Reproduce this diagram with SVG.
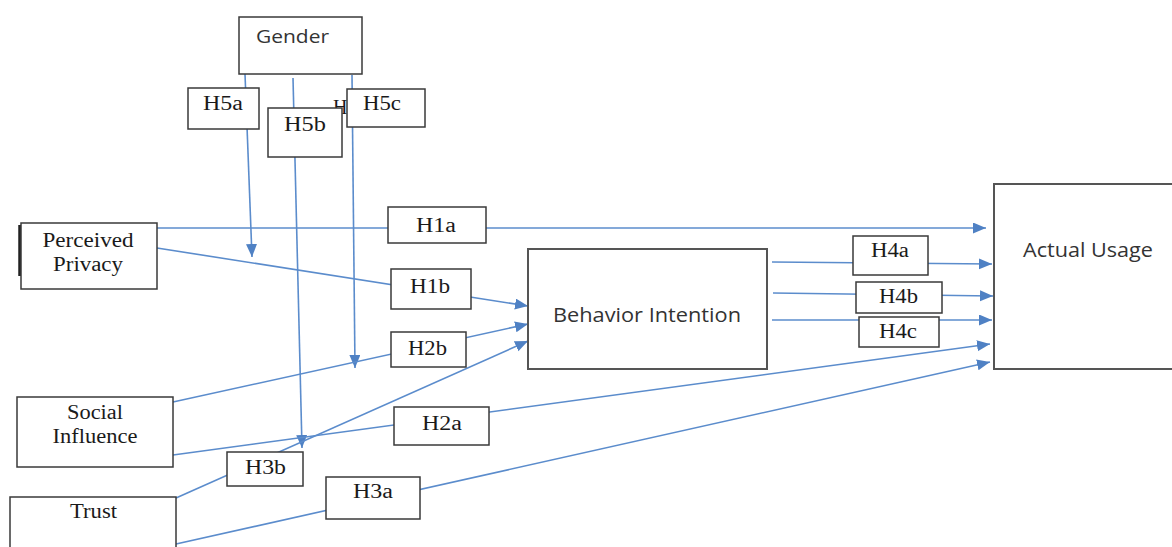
<svg xmlns="http://www.w3.org/2000/svg" width="1172" height="547" viewBox="0 0 1172 547">
<style>
.bg{fill:#ffffff}
.box{fill:#ffffff;stroke:#3a3a3a;stroke-width:1.5}
.big{fill:#ffffff;stroke:#555555;stroke-width:2}
.lbl{font-family:"Liberation Serif","Times New Roman",serif;font-size:20px;fill:#1a1a1a}
.sans{font-family:"Open Sans","Liberation Sans",sans-serif;fill:#333333}
.con{fill:none;stroke:#5b8ccc;stroke-width:1.6}
</style>
<defs>
<marker id="arr" markerUnits="userSpaceOnUse" markerWidth="15" markerHeight="12" refX="13" refY="5.5" orient="auto">
<path d="M0,0 L13,5.5 L0,11 z" fill="#4f81c4"/>
</marker>
</defs>
<rect class="bg" x="0" y="0" width="1172" height="547"/>

<g id="connectors">
<line class="con" x1="245" y1="74" x2="252" y2="257" marker-end="url(#arr)"/>
<line class="con" x1="293" y1="78" x2="302" y2="448" marker-end="url(#arr)"/>
<line class="con" x1="352" y1="75" x2="355" y2="368" marker-end="url(#arr)"/>
<line class="con" x1="157" y1="228" x2="986" y2="228" marker-end="url(#arr)"/>
<line class="con" x1="157" y1="248" x2="528" y2="306" marker-end="url(#arr)"/>
<line class="con" x1="173" y1="402" x2="528" y2="324" marker-end="url(#arr)"/>
<line class="con" x1="176" y1="498" x2="528" y2="341" marker-end="url(#arr)"/>
<line class="con" x1="173" y1="455" x2="990" y2="344" marker-end="url(#arr)"/>
<line class="con" x1="176" y1="544" x2="990" y2="362" marker-end="url(#arr)"/>
<line class="con" x1="772" y1="262" x2="992" y2="264" marker-end="url(#arr)"/>
<line class="con" x1="773" y1="293" x2="993" y2="296" marker-end="url(#arr)"/>
<line class="con" x1="772" y1="320" x2="992" y2="320" marker-end="url(#arr)"/>
</g>

<g id="gender">
<rect class="box" x="239" y="17" width="123" height="57"/>
<text class="sans" x="292.5" y="43" font-size="17.5" text-anchor="middle" textLength="73" lengthAdjust="spacingAndGlyphs">Gender</text>
</g>

<g id="perceived-privacy">
<rect class="box" x="21" y="223" width="136" height="66"/>
<line x1="19.5" y1="225" x2="19.5" y2="276" stroke="#222" stroke-width="2.5"/>
<text class="lbl" x="88" y="247" text-anchor="middle" textLength="91" lengthAdjust="spacingAndGlyphs">Perceived</text>
<text class="lbl" x="88" y="271" text-anchor="middle" textLength="70" lengthAdjust="spacingAndGlyphs">Privacy</text>
</g>

<g id="social-influence">
<rect class="box" x="17" y="397" width="156" height="70"/>
<text class="lbl" x="95" y="419" text-anchor="middle" textLength="56" lengthAdjust="spacingAndGlyphs">Social</text>
<text class="lbl" x="95" y="443" text-anchor="middle" textLength="85" lengthAdjust="spacingAndGlyphs">Influence</text>
</g>

<g id="trust">
<rect class="box" x="10" y="497" width="166" height="70"/>
<text class="lbl" x="93.5" y="518" text-anchor="middle" textLength="47" lengthAdjust="spacingAndGlyphs">Trust</text>
</g>

<g id="behavior-intention">
<rect class="big" x="528" y="249" width="239" height="120"/>
<text class="sans" x="647" y="322" font-size="19.5" text-anchor="middle" textLength="188" lengthAdjust="spacingAndGlyphs">Behavior Intention</text>
</g>

<g id="actual-usage">
<rect class="big" x="994" y="184" width="190" height="185"/>
<text class="sans" x="1088" y="257" font-size="19.5" text-anchor="middle" textLength="130" lengthAdjust="spacingAndGlyphs">Actual Usage</text>
</g>

<g id="h5a">
<rect class="box" x="188" y="88" width="71" height="41"/>
<text class="lbl" x="223" y="110" text-anchor="middle" textLength="40" lengthAdjust="spacingAndGlyphs">H5a</text>
</g>
<g id="h5c-hidden">
<text class="lbl" x="333" y="114" font-size="15">H5c</text>
</g>
<g id="h5b">
<rect class="box" x="268" y="108" width="74" height="49"/>
<text class="lbl" x="305" y="131" text-anchor="middle" textLength="42" lengthAdjust="spacingAndGlyphs">H5b</text>
</g>
<g id="h5c">
<rect class="box" x="347" y="89" width="78" height="38"/>
<text class="lbl" x="382" y="110" text-anchor="middle" textLength="38" lengthAdjust="spacingAndGlyphs">H5c</text>
</g>

<g id="h1a">
<rect class="box" x="388" y="207" width="98" height="36"/>
<text class="lbl" x="436" y="232" text-anchor="middle" textLength="40" lengthAdjust="spacingAndGlyphs">H1a</text>
</g>
<g id="h1b">
<rect class="box" x="391" y="269" width="80" height="40"/>
<text class="lbl" x="430" y="293" text-anchor="middle" textLength="40" lengthAdjust="spacingAndGlyphs">H1b</text>
</g>
<g id="h2b">
<rect class="box" x="391" y="332" width="75" height="35"/>
<text class="lbl" x="427.5" y="355" text-anchor="middle" textLength="39" lengthAdjust="spacingAndGlyphs">H2b</text>
</g>
<g id="h2a">
<rect class="box" x="394" y="407" width="95" height="38"/>
<text class="lbl" x="442" y="430" text-anchor="middle" textLength="40" lengthAdjust="spacingAndGlyphs">H2a</text>
</g>
<g id="h3b">
<rect class="box" x="227" y="452" width="76" height="34"/>
<text class="lbl" x="265.5" y="474" text-anchor="middle" textLength="41" lengthAdjust="spacingAndGlyphs">H3b</text>
</g>
<g id="h3a">
<rect class="box" x="326" y="477" width="94" height="42"/>
<text class="lbl" x="373" y="498" text-anchor="middle" textLength="40" lengthAdjust="spacingAndGlyphs">H3a</text>
</g>

<g id="h4a">
<rect class="box" x="853" y="236" width="75" height="39"/>
<text class="lbl" x="890" y="257" text-anchor="middle" textLength="38" lengthAdjust="spacingAndGlyphs">H4a</text>
</g>
<g id="h4b">
<rect class="box" x="856" y="282" width="86" height="31"/>
<text class="lbl" x="898.5" y="303" text-anchor="middle" textLength="39" lengthAdjust="spacingAndGlyphs">H4b</text>
</g>
<g id="h4c">
<rect class="box" x="859" y="317" width="80" height="30"/>
<text class="lbl" x="898" y="338" text-anchor="middle" textLength="38" lengthAdjust="spacingAndGlyphs">H4c</text>
</g>
</svg>
